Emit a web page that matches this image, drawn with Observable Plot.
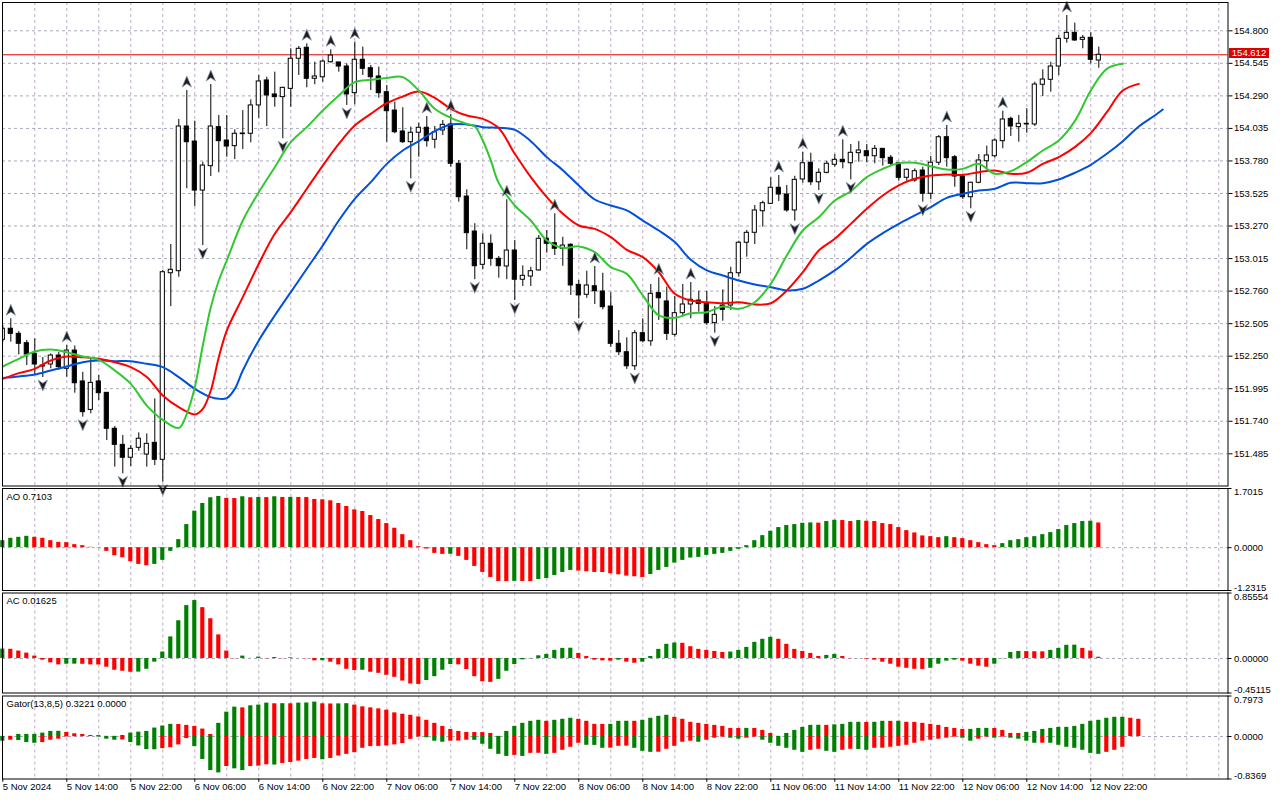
<!DOCTYPE html>
<html><head><meta charset="utf-8">
<script src="https://cdn.jsdelivr.net/npm/d3@7"></script>
<script src="https://cdn.jsdelivr.net/npm/@observablehq/plot@0.6"></script>
<style>
html,body{margin:0;padding:0;background:#fff;}
#wrap{position:relative;width:1280px;height:800px;overflow:hidden;font-family:"Liberation Sans",Arial,sans-serif;}
#wrap svg{position:absolute;left:0;top:0;}
.bid{position:absolute;left:1229px;top:48px;width:40px;height:10px;background:#dd0000;color:#fff;font-size:9.5px;line-height:10px;text-align:center;font-family:"Liberation Sans",Arial,sans-serif;}
</style></head><body><div id="wrap"></div>
<script>
// ---------- DATA ----------
const opens = [152.378,152.465,152.425,152.352,152.268,152.169,152.185,152.255,152.151,152.294,
152.052,151.829,152.052,151.963,151.681,151.555,151.454,151.532,151.479,151.571,
151.438,152.900,152.916,154.050,153.932,153.548,153.739,154.045,153.940,153.896,
153.995,153.993,154.215,154.411,154.301,154.280,154.345,154.581,154.667,154.424,
154.436,154.554,154.552,154.520,154.311,154.573,154.507,154.442,154.319,154.175,
154.011,153.927,154.001,154.040,153.946,154.019,154.066,153.758,153.501,153.227,
152.966,153.131,153.013,152.953,153.078,152.849,152.874,152.922,153.170,153.135,
153.092,153.123,152.809,152.731,152.798,152.757,152.639,152.347,152.281,152.171,
152.430,152.367,152.744,152.679,152.418,152.587,152.655,152.686,152.665,152.509,
152.647,152.647,152.900,153.139,153.217,153.386,153.444,153.570,153.517,153.392,
153.635,153.766,153.613,153.687,153.750,153.789,153.762,153.841,153.856,153.817,
153.875,153.805,153.762,153.648,153.627,153.705,153.523,153.766,153.966,153.809,
153.658,153.496,153.609,153.778,153.817,153.935,154.110,154.045,154.071,154.066,
154.377,154.416,154.520,154.737,154.784,154.729,154.745,154.567];
const highs = [152.491,152.543,152.443,152.373,152.386,152.240,152.268,152.279,152.334,152.330,
152.124,152.229,152.098,151.965,151.699,151.628,151.550,151.649,151.641,151.916,
152.922,153.125,154.105,154.332,154.092,153.770,154.379,154.136,154.136,154.024,
154.175,154.259,154.450,154.436,154.476,154.358,154.659,154.677,154.698,154.554,
154.573,154.651,154.552,154.541,154.711,154.672,154.528,154.515,154.371,154.240,
154.197,154.045,154.076,154.128,154.050,154.097,154.144,153.784,153.554,153.288,
153.209,153.201,153.031,153.476,153.157,152.958,152.947,153.196,153.235,153.366,
153.182,153.131,152.843,152.916,152.953,152.900,152.747,152.451,152.394,152.451,
152.543,152.812,152.864,152.791,152.718,152.812,152.827,152.759,152.757,152.639,
152.770,152.947,153.151,153.235,153.431,153.465,153.648,153.666,153.588,153.660,
153.849,153.841,153.718,153.778,153.830,153.946,153.909,153.932,153.909,153.901,
153.875,153.823,153.770,153.718,153.718,153.731,153.815,153.979,154.058,153.823,
153.666,153.613,153.831,153.896,153.954,154.170,154.123,154.136,154.189,154.397,
154.494,154.554,154.763,154.920,154.860,154.763,154.784,154.672];
const lows = [152.357,152.360,152.260,152.177,152.098,152.083,152.151,152.138,152.085,151.960,
151.772,151.798,151.903,151.589,151.380,151.328,151.385,151.505,151.380,151.393,
151.262,152.639,152.869,153.562,153.423,153.117,153.658,153.687,153.809,153.791,
153.870,153.922,154.115,154.050,154.201,153.954,154.201,154.450,154.353,154.377,
154.397,154.546,154.476,154.215,154.220,154.450,154.332,154.272,153.927,153.993,
153.917,153.640,153.809,153.888,153.875,153.979,153.731,153.457,153.084,152.849,
152.927,152.955,152.861,152.849,152.686,152.796,152.796,152.916,153.057,153.039,
152.955,152.726,152.543,152.704,152.655,152.613,152.320,152.255,152.146,152.138,
152.355,152.328,152.530,152.373,152.399,152.556,152.543,152.595,152.491,152.430,
152.524,152.608,152.869,153.026,153.125,153.261,153.439,153.462,153.378,153.308,
153.606,153.588,153.548,153.679,153.731,153.718,153.632,153.770,153.765,153.758,
153.739,153.744,153.621,153.621,153.613,153.457,153.476,153.744,153.731,153.574,
153.478,153.405,153.601,153.718,153.802,153.875,153.972,153.927,153.997,154.050,
154.285,154.319,154.450,154.703,154.718,154.659,154.541,154.507];
const closes = [152.465,152.425,152.347,152.263,152.185,152.177,152.255,152.164,152.294,152.038,
151.811,152.041,151.960,151.681,151.555,151.454,151.524,151.603,151.563,151.438,
152.908,152.927,154.050,153.927,153.548,153.744,154.050,153.935,153.893,153.993,
153.990,154.215,154.403,154.293,154.280,154.353,154.581,154.659,154.424,154.442,
154.559,154.606,154.520,154.301,154.573,154.502,154.436,154.311,154.170,154.005,
153.927,154.001,154.040,153.935,154.005,154.063,153.758,153.496,153.214,152.955,
153.131,153.013,152.955,153.078,152.849,152.880,152.916,153.170,153.131,153.092,
153.117,152.804,152.726,152.804,152.759,152.634,152.347,152.281,152.171,152.430,
152.367,152.739,152.704,152.425,152.587,152.655,152.692,152.660,152.509,152.574,
152.613,152.900,153.139,153.217,153.392,153.449,153.570,153.517,153.392,153.632,
153.762,153.613,153.687,153.758,153.789,153.770,153.844,153.862,153.817,153.875,
153.802,153.758,153.648,153.711,153.700,153.523,153.766,153.966,153.802,153.658,
153.496,153.609,153.784,153.823,153.940,154.105,154.050,154.071,154.068,154.379,
154.418,154.520,154.737,154.784,154.724,154.745,154.573,154.612];

const fractalsUp = [1,8,23,26,38,41,44,53,56,63,69,74,82,86,97,100,105,118,125,133];
const fractalsDown = [5,10,15,20,25,35,43,51,59,64,72,79,89,99,102,106,115,121];

// Alligator lines: [bar, price]
const jaw = [[0,152.080],[2,152.091],[4,152.106],[6,152.138],[8,152.169],[10,152.203],[12,152.216],[14,152.211],[16,152.211],[18,152.190],[20,152.164],[22,152.086],[24,151.994],[26,151.929],[27,151.916],[28,151.921],[29,151.994],[30,152.138],[32,152.373],[34,152.569],[36,152.752],[38,152.935],[40,153.117],[42,153.313],[44,153.483],[46,153.614],[48,153.757],[50,153.862],[52,153.935],[54,154.013],[56,154.066],[58,154.066],[60,154.045],[62,154.040],[64,154.024],[66,153.935],[68,153.810],[70,153.708],[72,153.588],[74,153.478],[76,153.431],[78,153.392],[80,153.313],[82,153.235],[84,153.144],[86,153.005],[88,152.922],[90,152.882],[92,152.843],[94,152.812],[96,152.791],[98,152.765],[100,152.778],[102,152.843],[104,152.922],[106,153.021],[108,153.130],[110,153.214],[112,153.287],[114,153.353],[116,153.418],[118,153.491],[120,153.522],[122,153.548],[124,153.562],[126,153.609],[128,153.606],[130,153.606],[132,153.635],[134,153.687],[136,153.750],[138,153.836],[140,153.935],[142,154.050],[144,154.136],[145,154.183]];
const teeth = [[0,152.072],[2,152.117],[4,152.151],[6,152.216],[8,152.247],[10,152.242],[12,152.229],[14,152.203],[16,152.164],[18,152.086],[20,151.942],[22,151.850],[24,151.793],[25,151.837],[26,151.981],[27,152.242],[28,152.451],[30,152.713],[32,152.974],[34,153.209],[36,153.379],[38,153.562],[40,153.744],[42,153.914],[44,154.058],[46,154.149],[48,154.233],[50,154.285],[52,154.324],[54,154.275],[56,154.189],[58,154.136],[60,154.110],[62,154.037],[64,153.836],[66,153.653],[68,153.496],[70,153.366],[72,153.274],[74,153.248],[76,153.183],[78,153.083],[80,153.026],[82,152.908],[84,152.739],[86,152.686],[88,152.673],[90,152.665],[92,152.673],[94,152.655],[96,152.665],[98,152.765],[100,152.908],[102,153.078],[104,153.170],[106,153.287],[108,153.405],[110,153.509],[112,153.588],[114,153.640],[116,153.666],[118,153.674],[120,153.671],[122,153.692],[124,153.705],[126,153.679],[128,153.687],[130,153.757],[132,153.810],[134,153.888],[136,153.998],[138,154.162],[140,154.332],[142,154.384]];
const lips = [[0,152.169],[2,152.229],[4,152.287],[6,152.302],[8,152.281],[10,152.247],[12,152.221],[14,152.138],[16,152.033],[18,151.863],[20,151.751],[22,151.688],[23,151.798],[24,152.007],[25,152.334],[26,152.634],[27,152.843],[28,153.000],[30,153.313],[32,153.535],[34,153.731],[36,153.927],[38,154.045],[40,154.175],[42,154.293],[44,154.398],[46,154.416],[48,154.431],[50,154.437],[52,154.332],[54,154.189],[56,154.118],[58,154.071],[59,154.050],[60,153.940],[61,153.784],[62,153.606],[64,153.431],[66,153.313],[68,153.157],[70,153.099],[72,153.110],[74,153.065],[76,152.948],[78,152.895],[80,152.726],[82,152.569],[84,152.551],[86,152.587],[88,152.595],[90,152.639],[92,152.621],[94,152.673],[96,152.817],[98,153.039],[100,153.235],[102,153.339],[104,153.470],[106,153.543],[108,153.653],[110,153.718],[112,153.763],[114,153.765],[116,153.739],[118,153.713],[120,153.718],[122,153.757],[124,153.679],[126,153.700],[128,153.771],[130,153.862],[132,153.940],[134,154.092],[136,154.332],[138,154.502],[140,154.541]];

const bidPrice = 154.612;
const priceTicks = [151.485,151.740,151.995,152.250,152.505,152.760,153.015,153.270,153.525,153.780,154.035,154.290,154.545,154.800];

// Awesome Oscillator
const aoValues = [0.202,0.269,0.298,0.327,0.298,0.269,0.202,0.154,0.145,0.087,
0.058,0.010,-0.007,-0.106,-0.231,-0.288,-0.404,-0.481,-0.520,-0.481,
-0.366,-0.106,0.231,0.664,1.050,1.271,1.435,1.473,1.419,1.412,
1.464,1.435,1.444,1.439,1.464,1.444,1.446,1.444,1.441,1.387,
1.377,1.348,1.271,1.184,1.087,1.040,0.924,0.809,0.693,0.559,
0.375,0.202,0.029,-0.039,-0.164,-0.193,-0.190,-0.250,-0.366,-0.539,
-0.712,-0.857,-0.973,-0.976,-0.969,-0.973,-0.976,-0.915,-0.886,-0.799,
-0.712,-0.654,-0.673,-0.693,-0.712,-0.714,-0.751,-0.780,-0.818,-0.838,
-0.857,-0.770,-0.654,-0.568,-0.443,-0.366,-0.298,-0.279,-0.221,-0.193,
-0.164,-0.106,-0.048,0.058,0.202,0.346,0.472,0.578,0.636,0.664,
0.702,0.712,0.705,0.751,0.789,0.780,0.751,0.780,0.760,0.751,
0.693,0.664,0.578,0.491,0.424,0.337,0.317,0.288,0.317,0.288,
0.260,0.202,0.145,0.087,0.058,0.116,0.202,0.231,0.288,0.317,
0.375,0.433,0.520,0.636,0.693,0.751,0.760,0.7103];
const aoDir = "ggggrrrrrr"+"rrrrrrrrrg"+"ggggggggrr"+"grgrgrgrrr"+"rrrrrrrrrr"+"rrrrrrgrrr"+"rrrrgrrggg"+"ggrrrrrrrr"+"rggggggggg"+"gggggggggg"+"ggrggrrgrr"+"rrrrrrrrgr"+"rrrrrggggg"+"gggggggr";

// Accelerator Oscillator
const acValues = [0.123,0.120,0.097,0.070,0.031,-0.022,-0.057,-0.084,-0.075,-0.074,
-0.076,-0.084,-0.085,-0.114,-0.154,-0.167,-0.180,-0.178,-0.141,-0.048,
0.084,0.282,0.493,0.691,0.757,0.664,0.519,0.308,0.097,-0.004,
0.031,0.001,0.018,-0.004,0.013,-0.004,0.009,-0.001,-0.004,-0.031,
-0.029,-0.048,-0.084,-0.141,-0.158,-0.154,-0.180,-0.194,-0.220,-0.246,
-0.295,-0.334,-0.339,-0.288,-0.238,-0.154,-0.079,-0.083,-0.145,-0.238,
-0.304,-0.312,-0.273,-0.167,-0.079,-0.018,-0.004,0.035,0.053,0.106,
0.132,0.134,0.066,0.026,-0.022,-0.031,-0.035,-0.022,-0.048,-0.062,
-0.048,0.026,0.119,0.185,0.202,0.198,0.154,0.119,0.106,0.092,
0.079,0.084,0.106,0.145,0.211,0.251,0.277,0.251,0.185,0.119,
0.092,0.066,0.026,0.040,0.053,0.026,-0.004,-0.002,-0.009,-0.022,
-0.048,-0.075,-0.114,-0.128,-0.141,-0.143,-0.128,-0.075,-0.035,-0.022,
-0.035,-0.075,-0.101,-0.114,-0.075,-0.004,0.079,0.092,0.090,0.088,
0.087,0.106,0.132,0.172,0.174,0.132,0.097,0.01625];
const acDir = "grrrrrrrgg"+"rrrrrrrggg"+"gggggrrrrr"+"grgrgrgrrr"+"grrrrgrrrr"+"rrrggggrrr"+"rrgggggggg"+"ggrrrrrgrr"+"gggggrrrrr"+"rggggggrrr"+"rrrggrrgrr"+"rrrrrrgggg"+"rrrrggggrr"+"rggggrrr";

// Gator Oscillator
const gatorUp = [0.003,0.003,0.040,0.041,0.042,0.066,0.100,0.102,0.080,0.053,
0.040,0.020,0.018,0.003,0.003,0.020,0.066,0.086,0.100,0.166,
0.206,0.239,0.237,0.219,0.199,0.146,0.040,0.259,0.479,0.578,
0.564,0.604,0.618,0.657,0.644,0.646,0.644,0.657,0.660,0.677,
0.644,0.640,0.642,0.646,0.618,0.584,0.564,0.544,0.518,0.465,
0.438,0.418,0.385,0.319,0.259,0.199,0.139,0.100,0.080,0.078,
0.077,0.060,0.003,0.100,0.199,0.259,0.299,0.319,0.299,0.319,
0.339,0.359,0.339,0.299,0.239,0.238,0.239,0.299,0.300,0.299,
0.319,0.359,0.398,0.418,0.378,0.339,0.279,0.259,0.239,0.219,
0.199,0.159,0.158,0.160,0.159,0.120,0.060,0.003,0.060,0.120,
0.179,0.219,0.221,0.219,0.230,0.239,0.279,0.280,0.278,0.280,
0.299,0.298,0.300,0.279,0.278,0.259,0.239,0.219,0.179,0.159,
0.139,0.140,0.159,0.160,0.159,0.120,0.060,0.059,0.080,0.100,
0.139,0.159,0.179,0.180,0.199,0.239,0.299,0.319,0.359,0.378,
0.379,0.359,0.339];
const gatorUpDir = "rrggggggrr"+"rrrrrggggg"+"ggrrrrrggg"+"rgggrgrggg"+"rrggrrrrrr"+"rrrrrrrrrr"+"rrrgggggrg"+"ggrrrrgggr"+"ggggrrrrrr"+"rrrgrrrrgg"+"gggrggggrg"+"grgrrrrrrr"+"rgggrrrrgg"+"gggggggggg"+"grr";
const gatorDown = [-0.093,-0.073,-0.080,-0.120,-0.133,-0.120,-0.073,-0.053,-0.010,-0.005,
-0.003,-0.002,-0.010,-0.053,-0.073,-0.070,-0.120,-0.186,-0.259,-0.262,
-0.239,-0.219,-0.166,-0.040,-0.199,-0.452,-0.671,-0.717,-0.591,-0.637,
-0.671,-0.591,-0.584,-0.558,-0.562,-0.531,-0.512,-0.485,-0.452,-0.432,
-0.458,-0.432,-0.385,-0.352,-0.319,-0.232,-0.199,-0.195,-0.186,-0.166,
-0.139,-0.057,-0.010,-0.025,-0.093,-0.113,-0.093,-0.090,-0.073,-0.075,
-0.153,-0.252,-0.352,-0.392,-0.372,-0.392,-0.332,-0.330,-0.352,-0.332,
-0.272,-0.212,-0.133,-0.173,-0.175,-0.232,-0.230,-0.193,-0.190,-0.232,
-0.292,-0.312,-0.310,-0.252,-0.193,-0.113,-0.093,-0.113,-0.073,-0.033,
-0.013,-0.033,-0.053,-0.033,-0.013,-0.073,-0.133,-0.193,-0.232,-0.272,
-0.312,-0.272,-0.252,-0.292,-0.312,-0.272,-0.252,-0.255,-0.272,-0.232,
-0.230,-0.212,-0.193,-0.173,-0.133,-0.093,-0.073,-0.053,-0.033,-0.013,
-0.033,-0.093,-0.053,-0.013,-0.033,-0.013,-0.033,-0.053,-0.093,-0.133,
-0.132,-0.133,-0.173,-0.212,-0.232,-0.272,-0.332,-0.352,-0.312,-0.272,
-0.212];
const gatorDownDir = "grgggrrrrr"+"rrgggrgggg"+"rrrrggggrg"+"grrrgrrrrr"+"grrrrrrrrr"+"rrrgggrrrg"+"ggggrgrrgr"+"rrrgggrrrg"+"ggrrrrrgrr"+"rggrrggggg"+"grrggrrggr"+"rrrrrrrrrr"+"ggrrgrgggg"+"rgggggggrr"+"r";

const timeTickBars = [0,8,16,24,32,40,48,56,64,72,80,88,96,104,112,120,128,136];
const timeTickLabels = ["5 Nov 2024","5 Nov 14:00","5 Nov 22:00","6 Nov 06:00","6 Nov 14:00","6 Nov 22:00","7 Nov 06:00","7 Nov 14:00","7 Nov 22:00","8 Nov 06:00","8 Nov 14:00","8 Nov 22:00","11 Nov 06:00","11 Nov 14:00","11 Nov 22:00","12 Nov 06:00","12 Nov 14:00","12 Nov 22:00"];

const aoLabels = [["1.7015",1.7015,"top"],["0.0000",0,"middle"],["-1.2315",-1.2315,"bottom"]];
const acLabels = [["0.85554",0.85554,"top"],["0.00000",0,"middle"],["-0.45115",-0.45115,"bottom"]];
const gatorLabels = [["0.7973",0.7973,"top"],["0.0000",0,"middle"],["-0.8369",-0.8369,"bottom"]];

// ---------- DRAWING ----------
const GREEN = "#008000", RED = "#ff0000";
const GRIDV = "#bcaac4", GRIDH = "#a6abbd";
const xDom = [-0.0375, 153.15];
const W = 1280, H = 800, MR = 52.5, ML = 2;
const STYLE = "background: transparent; overflow: visible; font-family: 'Liberation Sans', Arial, sans-serif; font-size: 9.5px; color: black;";
const gridBars = d3.range(4, 153, 4);
const wrap = document.getElementById("wrap");

function panel(top, bottom, yDomain, marks, yOpts) {
  const p = Plot.plot({
    width: W, height: H,
    marginLeft: ML, marginRight: MR, marginTop: top, marginBottom: H - bottom,
    x: {domain: xDom, axis: null},
    y: Object.assign({domain: yDomain, axis: null}, yOpts || {}),
    style: STYLE,
    marks
  });
  wrap.appendChild(p);
  return p;
}

const arrowUp = {draw(ctx, size) { const r = Math.sqrt(size / Math.PI);
  ctx.moveTo(0, -r); ctx.lineTo(0.85 * r, r); ctx.lineTo(0, 0.4 * r); ctx.lineTo(-0.85 * r, r); ctx.closePath(); }};
const arrowDown = {draw(ctx, size) { const r = Math.sqrt(size / Math.PI);
  ctx.moveTo(0, r); ctx.lineTo(0.85 * r, -r); ctx.lineTo(0, -0.4 * r); ctx.lineTo(-0.85 * r, -r); ctx.closePath(); }};

const candles = opens.map((o, i) => ({i, o, h: highs[i], l: lows[i], c: closes[i]}));
const bodyEnd = d => Math.abs(d.c - d.o) < 0.005 ? d.o - 0.005 : d.c;
const BW = 0.26;

function valueLabels(list) {
  const xr = xDom[1];
  return [
    Plot.ruleY(list.map(d => d[1]), {x1: xr, x2: xr + 0.5, stroke: "black"}),
    ...["top", "middle", "bottom"].map(anchor => Plot.text(list.filter(d => d[2] === anchor), {
      x: xr, y: d => d[1], text: d => d[0], dx: 6, textAnchor: "start", lineAnchor: anchor, fill: "black", fontSize: 9.5
    }))
  ];
}
function titleMark(t) {
  return Plot.text([t], {frameAnchor: "top-left", text: d => d, dx: 4, dy: 4.5, fill: "black", fontSize: 9.5});
}
function histogram(values, dirs) {
  const data = values.map((v, i) => ({i, v, g: dirs[i] === "g"}));
  return [true, false].map(up => Plot.rect(data.filter(d => d.g === up), {
    x1: d => d.i - BW, x2: d => d.i + BW, y1: 0, y2: d => d.v, fill: up ? GREEN : RED
  }));
}

// Main price panel
panel(2, 485.5, [151.2326, 155.0218], [
  Plot.ruleX(gridBars, {stroke: GRIDV, strokeDasharray: "3,3"}),
  Plot.ruleY(priceTicks, {stroke: GRIDH, strokeDasharray: "3,3"}),
  Plot.ruleY([bidPrice], {stroke: "#dd0000", strokeWidth: 1}),
  Plot.ruleX(candles, {x: "i", y1: "l", y2: "h", stroke: "black", strokeWidth: 1, clip: true}),
  Plot.rect(candles, {x1: d => d.i - BW, x2: d => d.i + BW, y1: "o", y2: bodyEnd,
    fill: d => d.c >= d.o ? "white" : "black", stroke: "black", strokeWidth: 1, clip: true}),
  Plot.line(jaw, {x: d => d[0], y: d => d[1], stroke: "#0050dc", strokeWidth: 2, curve: "catmull-rom"}),
  Plot.line(teeth, {x: d => d[0], y: d => d[1], stroke: "#ff0000", strokeWidth: 2, curve: "catmull-rom"}),
  Plot.line(lips, {x: d => d[0], y: d => d[1], stroke: "#32c832", strokeWidth: 2, curve: "catmull-rom"}),
  Plot.dot(fractalsUp.map(i => ({i, y: highs[i]})), {x: "i", y: "y", dy: -9, r: 5.5, symbol: arrowUp, fill: "#1e1e1e", stroke: "#8a98ae", strokeWidth: 0.7}),
  Plot.dot(fractalsDown.map(i => ({i, y: lows[i]})), {x: "i", y: "y", dy: 8, r: 5.5, symbol: arrowDown, fill: "#1e1e1e", stroke: "#8a98ae", strokeWidth: 0.7}),
  Plot.frame({stroke: "black"})
], {axis: "right", ticks: priceTicks, tickFormat: d => d.toFixed(3), tickSize: 4, tickPadding: 2, label: null});

// AO panel
panel(488, 590, [-1.2315, 1.7015], [
  Plot.ruleX(gridBars, {stroke: GRIDV, strokeDasharray: "3,3"}),
  Plot.ruleY([0], {stroke: GRIDH, strokeDasharray: "3,3"}),
  ...histogram(aoValues, aoDir),
  titleMark("AO 0.7103"),
  ...valueLabels(aoLabels),
  Plot.frame({stroke: "black"})
]);

// AC panel
panel(592.5, 692.5, [-0.45115, 0.85554], [
  Plot.ruleX(gridBars, {stroke: GRIDV, strokeDasharray: "3,3"}),
  Plot.ruleY([0], {stroke: GRIDH, strokeDasharray: "3,3"}),
  ...histogram(acValues, acDir),
  titleMark("AC 0.01625"),
  ...valueLabels(acLabels),
  Plot.frame({stroke: "black"})
]);

// Gator panel + time axis
const gDom = [-0.8369, 0.7973];
const timeTicks = timeTickBars.map((i, k) => ({i, label: timeTickLabels[k]}));
panel(695.5, 778.5, gDom, [
  Plot.ruleX(gridBars, {stroke: GRIDV, strokeDasharray: "3,3"}),
  Plot.ruleY([0], {stroke: GRIDH, strokeDasharray: "3,3"}),
  ...histogram(gatorUp, gatorUpDir),
  ...histogram(gatorDown, gatorDownDir),
  titleMark("Gator(13,8,5) 0.3221 0.0000"),
  ...valueLabels(gatorLabels),
  Plot.ruleX(timeTicks, {x: "i", y1: gDom[0], y2: gDom[0] - 0.065, stroke: "black"}),
  Plot.text(timeTicks, {x: "i", y: gDom[0], text: "label", dy: 4, textAnchor: "start", lineAnchor: "top", fill: "black", fontSize: 9.5}),
  Plot.frame({stroke: "black"})
]);

// current price tag
const tag = document.createElement("div");
tag.className = "bid";
tag.textContent = bidPrice.toFixed(3);
wrap.appendChild(tag);
</script></body></html>
